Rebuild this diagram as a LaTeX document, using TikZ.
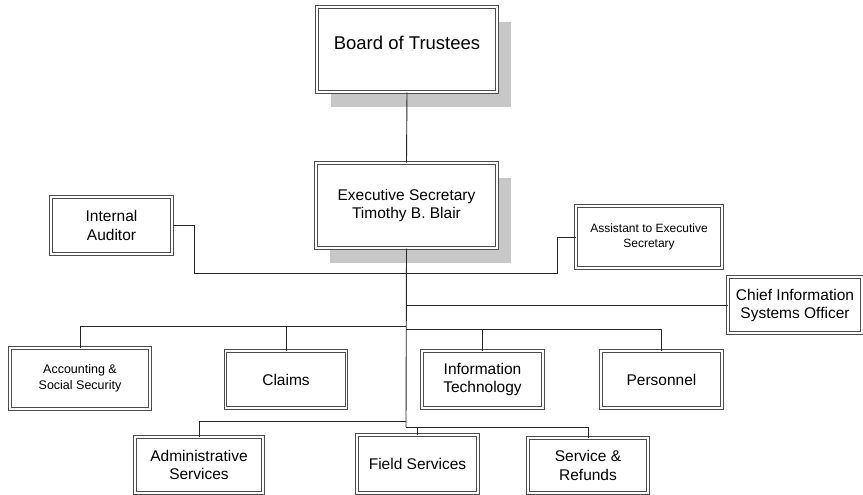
\documentclass[tikz,border=0pt]{standalone}
\usepackage{fontspec}
\setmainfont{Liberation Sans}
\usetikzlibrary{shadows}
\begin{document}
\begin{tikzpicture}[x=1pt,y=-1pt]
	\tikzstyle{every node}+=[inner sep=0pt,align=center,font=\fontsize{15.5}{18.5}\selectfont]
	\tikzstyle{box}=[draw=black!70,line width=1pt,double=white,double distance=1.3pt,fill=white,minimum width=121pt,minimum height=57pt]
	\tikzstyle{shad}=[drop shadow={shadow xshift=14pt,shadow yshift=-15pt,fill=black!22,opacity=1}]
	\tikzstyle{link}=[black!85,line width=0.9pt]
	\useasboundingbox (0,0) rectangle (863,495);
	
	\node [box,shad,minimum width=180pt,minimum height=85pt,font=\fontsize{18.5}{21}\selectfont,text depth=14pt] (board) at (407,49.5) {Board of Trustees};
	\node [box,shad,minimum width=181pt,minimum height=85pt] (exec) at (406.5,205.5) {Executive Secretary\\Timothy B. Blair};
	\node [box] (aud) at (111.5,225.5) {Internal\\Auditor};
	\node [box,minimum width=146pt,minimum height=62pt,font=\fontsize{12}{15}\selectfont] (asst) at (649,237) {Assistant to Executive\\Secretary};
	\node [box,minimum width=134pt,minimum height=56pt,font=\fontsize{15.5}{18}\selectfont] (ciso) at (795,305) {Chief Information\\Systems Officer};
	
	\node [box,minimum width=140pt,minimum height=61pt,font=\fontsize{12.5}{16}\selectfont] (acc) at (80,378.5) {Accounting \&\\Social Security};
	\node [box] (claims) at (286,379.5) {Claims};
	\node [box] (it) at (482.5,379.5) {Information\\Technology};
	\node [box] (pers) at (661.5,379.5) {Personnel};
	
	\node [box,minimum width=128pt,minimum height=56pt] (adm) at (199,465) {Administrative\\Services};
	\node [box,minimum height=58pt] (field) at (417.5,464) {Field Services};
	\node [box,minimum width=120pt,minimum height=55pt] (serv) at (588,465.5) {Service \&\\Refunds};
	
	\coordinate (jl) at (194,273);
	\coordinate (jr) at (557,273);
	\coordinate (m1) at (406,326);
	\coordinate (m2) at (406,329);
	\coordinate (b1) at (406,421);
	\coordinate (b2) at (406,427);
	
	\draw [link] (board.south) -- (exec.north);
	\draw [link] (exec.south) -- (b2);
	\draw [link] (aud.east) -| (jl) -- (jr) |- (asst.west);
	\draw [link] (ciso.west) -- (ciso.west -| exec.south);
	\draw [link] (m1) -| (acc.north);
	\draw [link] (claims.north) |- (m1);
	\draw [link] (m2) -| (pers.north);
	\draw [link] (it.north) |- (m2);
	\draw [link] (b1) -| (adm.north);
	\draw [link] (b2) -| (serv.north);
	\draw [link] (field.north) |- (b2);
\end{tikzpicture}
\end{document}
